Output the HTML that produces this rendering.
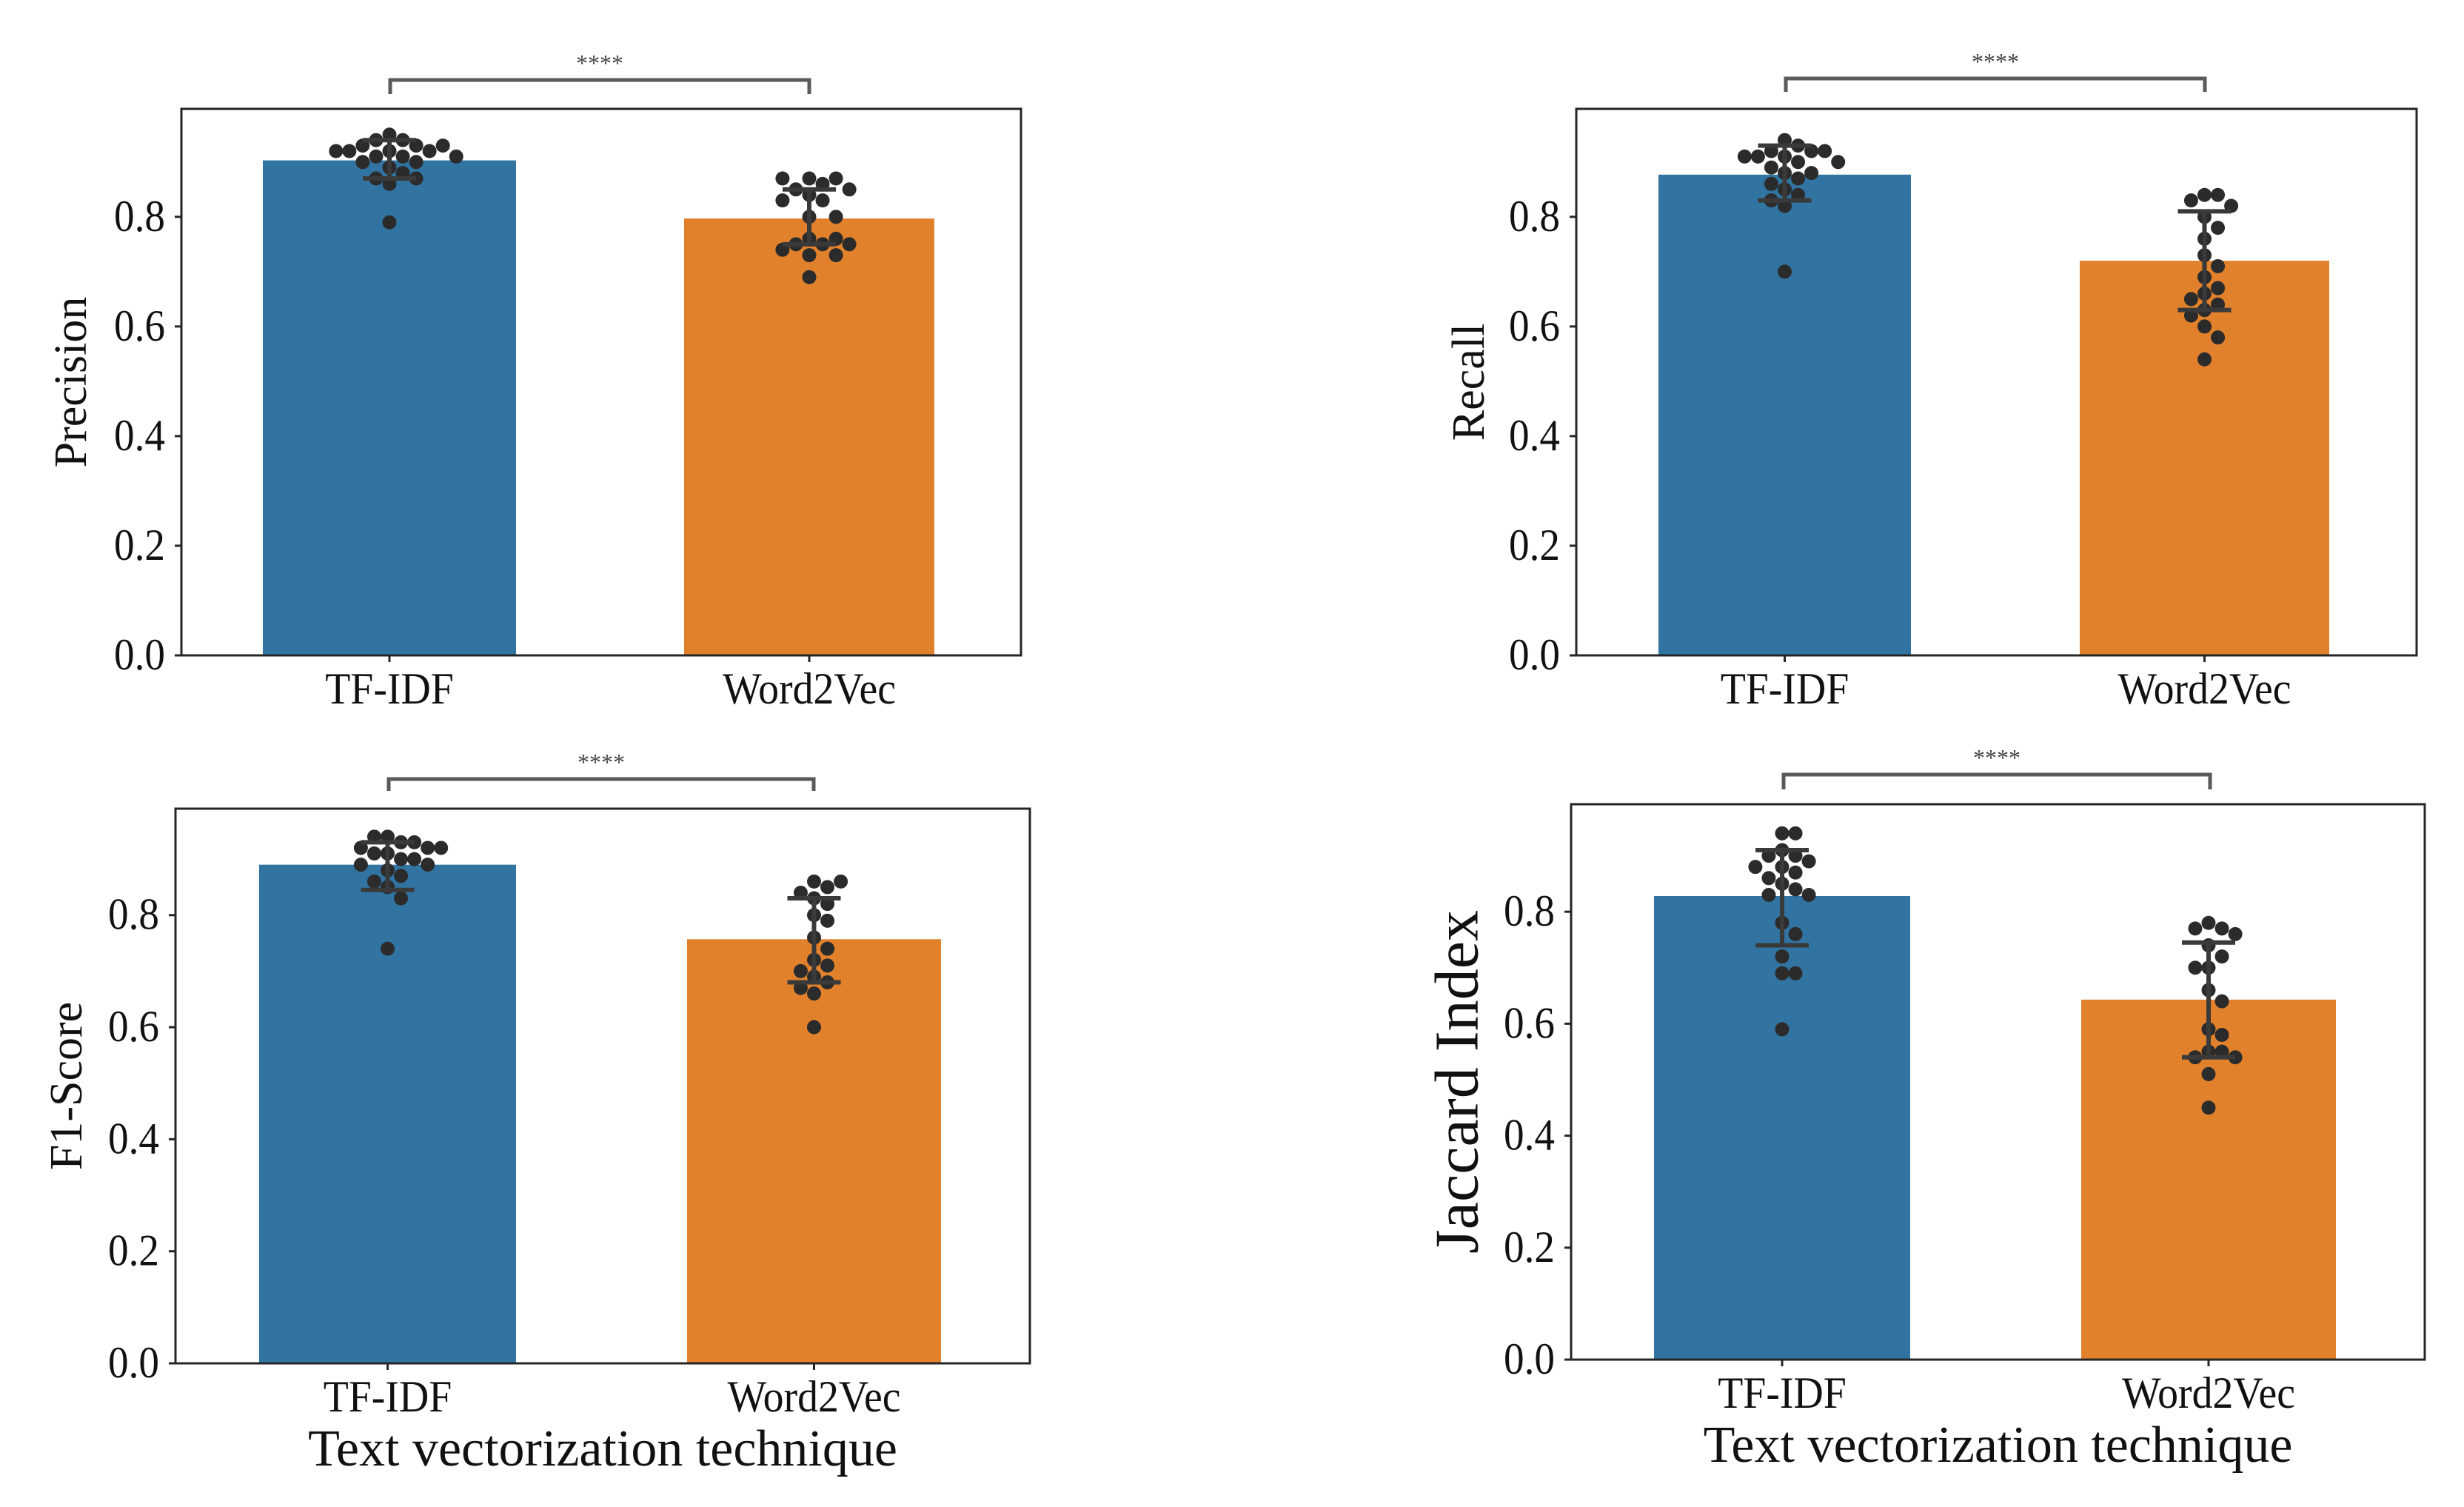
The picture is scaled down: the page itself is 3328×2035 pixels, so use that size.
<!DOCTYPE html>
<html><head><meta charset="utf-8"><style>
html,body{margin:0;padding:0;background:#fff;}
svg{display:block;font-family:"Liberation Serif",serif;}
</style></head><body>
<svg id="fig" width="3328" height="2035" viewBox="0 0 3328 2035" xmlns="http://www.w3.org/2000/svg"></svg>
<script>
const categories = ["TF-IDF","Word2Vec"];
const yTicks = [0.0,0.2,0.4,0.6,0.8];
const tickLabels = ["0.0","0.2","0.4","0.6","0.8"];
const metricNames = ["Precision","Recall","F1-Score","Jaccard Index"];
const precisionMeans = [0.903,0.797];
const recallMeans = [0.877,0.72];
const f1Means = [0.89,0.757];
const jaccardMeans = [0.828,0.643];
const precisionErr = [[0.87,0.94],[0.75,0.85]];
const recallErr = [[0.83,0.93],[0.63,0.81]];
const f1Err = [[0.845,0.93],[0.68,0.83]];
const jaccardErr = [[0.74,0.91],[0.54,0.745]];
const precisionTfidfPts = [0.95,0.94,0.94,0.93,0.93,0.93,0.92,0.92,0.92,0.92,0.91,0.91,0.91,0.90,0.90,0.89,0.88,0.87,0.87,0.86,0.79];
const precisionW2vPts = [0.87,0.87,0.87,0.86,0.85,0.85,0.84,0.83,0.83,0.80,0.80,0.76,0.76,0.75,0.75,0.75,0.74,0.73,0.73,0.69];
const recallTfidfPts = [0.94,0.93,0.92,0.92,0.92,0.91,0.91,0.91,0.90,0.90,0.89,0.88,0.88,0.87,0.86,0.85,0.84,0.83,0.82,0.70];
const recallW2vPts = [0.84,0.84,0.83,0.82,0.80,0.78,0.76,0.73,0.71,0.69,0.67,0.66,0.65,0.64,0.63,0.62,0.60,0.58,0.54];
const f1TfidfPts = [0.94,0.94,0.93,0.93,0.92,0.92,0.92,0.91,0.91,0.90,0.90,0.89,0.89,0.88,0.87,0.86,0.85,0.83,0.74];
const f1W2vPts = [0.86,0.86,0.85,0.84,0.83,0.82,0.80,0.79,0.76,0.74,0.72,0.71,0.70,0.69,0.68,0.67,0.66,0.60];
const jaccardTfidfPts = [0.94,0.94,0.91,0.90,0.90,0.89,0.88,0.88,0.87,0.86,0.85,0.84,0.83,0.83,0.78,0.76,0.72,0.69,0.69,0.59];
const jaccardW2vPts = [0.78,0.77,0.77,0.76,0.74,0.72,0.70,0.70,0.66,0.64,0.59,0.58,0.55,0.55,0.54,0.54,0.51,0.45];

const NS="http://www.w3.org/2000/svg";
const svg=document.getElementById('fig');
function el(tag,attrs,parent){const e=document.createElementNS(NS,tag);for(const k in attrs)e.setAttribute(k,attrs[k]);(parent||svg).appendChild(e);return e;}

const panels=[
 {L:245,R:1379,T:147,B:885,ymax:0.997,bars:[[355,697],[924,1262]],br:[527,1093,108,127],means:precisionMeans,err:precisionErr,pts:[precisionTfidfPts,precisionW2vPts],lx:96,lfs:62,xl:false},
 {L:2129,R:3264,T:147,B:885,ymax:0.997,bars:[[2240,2581],[2809,3146]],br:[2412,2978,106,124],means:recallMeans,err:recallErr,pts:[recallTfidfPts,recallW2vPts],lx:1984,lfs:62,xl:false},
 {L:237,R:1391,T:1092,B:1841,ymax:0.99,bars:[[350,697],[928,1271]],br:[525,1099,1052,1068],means:f1Means,err:f1Err,pts:[f1TfidfPts,f1W2vPts],lx:90,lfs:62,xl:true},
 {L:2122,R:3275,T:1086,B:1836,ymax:0.992,bars:[[2234,2580],[2811,3155]],br:[2409,2985,1046,1066],means:jaccardMeans,err:jaccardErr,pts:[jaccardTfidfPts,jaccardW2vPts],lx:1968,lfs:84,xl:true}
];
const colors=["#3274a1","#e1812c"];

panels.forEach((p,pi)=>{
  const g=el('g',{});
  
  
  const y=v=>p.B-(v/p.ymax)*(p.B-p.T);
  const cx=i=>(p.bars[i][0]+p.bars[i][1])/2;
  p.means.forEach((m,i)=>{
    const r=el('rect',{x:p.bars[i][0],y:y(m),width:p.bars[i][1]-p.bars[i][0],height:p.B-y(m),fill:colors[i]},g);
    
    
  });
  const rad=9.5;
  p.pts.forEach((arr,i)=>{
    const placed=[];
    arr.forEach(v=>{
      const py=y(v);let k=0,px;
      while(true){
        const off=(k===0?0:(k%2?1:-1)*Math.ceil(k/2)*rad*1.9);
        px=cx(i)+off;
        if(placed.every(q=>Math.hypot(q[0]-px,q[1]-py)>=rad*1.9))break;
        k++; if(k>40)break;
      }
      placed.push([px,py]);
      const c=el('circle',{cx:px,cy:py,r:rad,fill:"#2b2b2b"},g);
      
      
    });
  });
  p.err.forEach((e,i)=>{
    const eg=el('g',{stroke:"#3a3a3a","stroke-width":6},g);
    
    
    el('line',{x1:cx(i),x2:cx(i),y1:y(e[0]),y2:y(e[1])},eg);
    el('line',{x1:cx(i)-36,x2:cx(i)+36,y1:y(e[0]),y2:y(e[0])},eg);
    el('line',{x1:cx(i)-36,x2:cx(i)+36,y1:y(e[1]),y2:y(e[1])},eg);
  });
  const fr=el('rect',{x:p.L,y:p.T,width:p.R-p.L,height:p.B-p.T,fill:"none",stroke:"#262626","stroke-width":3},g);
  
  
  yTicks.forEach((t,j)=>{
    el('line',{x1:p.L-9,x2:p.L,y1:y(t),y2:y(t),stroke:"#262626","stroke-width":3},g);
    const ax=p.L-22;
    const tx=el('text',{x:ax,y:y(t)+19,"font-size":60,"text-anchor":"end",fill:"#111",transform:`translate(${ax},0) scale(0.92,1) translate(${-ax},0)`},g);
    tx.textContent=tickLabels[j];
    
    
  });
  categories.forEach((c,i)=>{
    el('line',{x1:cx(i),x2:cx(i),y1:p.B,y2:p.B+9,stroke:"#262626","stroke-width":3},g);
    const tx=el('text',{x:cx(i),y:p.B+65,"font-size":60,"text-anchor":"middle",fill:"#111",transform:`translate(${cx(i)},0) scale(0.93,1) translate(${-cx(i)},0)`},g);
    tx.textContent=c;
    
    
  });
  const my=(p.T+p.B)/2;
  const yl=el('text',{x:p.lx,y:my,"font-size":p.lfs,"text-anchor":"middle",fill:"#111",transform:`rotate(-90 ${p.lx} ${my})`,"dominant-baseline":"central"},g);
  yl.textContent=metricNames[pi];
  
  
  if(p.xl){
    const mx=(p.L+p.R)/2;
    const xl=el('text',{x:mx,y:p.B+138,"font-size":70,"text-anchor":"middle",fill:"#111"},g);
    xl.textContent="Text vectorization technique";
    
    
  }
  const [x1,x2,yt,yb]=p.br;
  const bp=el('path',{d:`M${x1} ${yb} L${x1} ${yt} L${x2} ${yt} L${x2} ${yb}`,fill:"none",stroke:"#5a5a5a","stroke-width":5},g);
  
  
  const st=el('text',{x:(x1+x2)/2,y:yt-12,"font-size":32,"text-anchor":"middle",fill:"#444"},g);
  st.textContent="****";
  
  
});
</script>
</body></html>
